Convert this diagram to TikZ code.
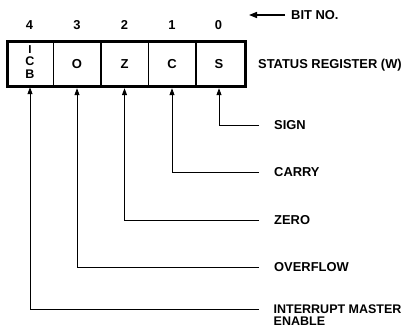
\documentclass[tikz,border=0pt]{standalone}
\usepackage{fontspec}
\setmainfont{Liberation Sans}[BoldFont={Liberation Sans Bold}]
\usetikzlibrary{arrows.meta}
\begin{document}
\begin{tikzpicture}[x=1pt,y=-1pt,
  lbl/.style={font=\bfseries\fontsize{12.9}{12}\selectfont, inner sep=0pt},
  smlbl/.style={font=\bfseries\fontsize{12.5}{12}\selectfont, inner sep=0pt},
  cell/.style={minimum width=46pt, minimum height=48pt, inner sep=0pt, font=\bfseries\fontsize{13}{13}\selectfont},
  arr/.style={line width=0.9pt, -{Triangle[length=7pt,width=5pt]}},
  divider/.style={line width=1.6pt},
  outer/.style={line width=3pt}
]
\useasboundingbox (0,0) rectangle (404,327);
% cells
\node[cell] (s4) at (30,63) {\begin{tabular}{@{}c@{}}\fontsize{11.5}{10}\selectfont I\\[-1pt]\fontsize{12.5}{10.5}\selectfont C\\\fontsize{12.5}{10.5}\selectfont B\end{tabular}};
\node[cell] (s3) at (77,64) {O};
\node[cell] (s2) at (124.5,64) {Z};
\node[cell] (s1) at (172,64) {C};
\node[cell] (s0) at (219,64) {S};
% register outline and dividers
\draw[outer] (7.5,41.5) rectangle (245.5,86.5);
\foreach \xx in {53.5,101,148.5,196}
  \draw[divider] (\xx,41.5) -- (\xx,86.5);
% bit numbers
\node[lbl] (b4) at (29.5,25) {4};
\node[lbl] (b3) at (77,25) {3};
\node[lbl] (b2) at (124.5,25) {2};
\node[lbl] (b1) at (172,25) {1};
\node[lbl] (b0) at (218.5,25) {0};
% bit no.
\node[lbl, anchor=west] (bitno) at (291,15) {BIT NO.};
\coordinate (bstart) at (285,15);
\draw[line width=1.5pt, -{Triangle[length=8pt,width=6pt]}] (bstart) -- (249,15);
% status register
\node[lbl, anchor=west] (sr) at (258,65) {STATUS REGISTER (W)};
% labels
\node[lbl, anchor=west] (sign) at (274,125) {SIGN};
\node[lbl, anchor=west] (carry) at (274,172) {CARRY};
\node[lbl, anchor=west] (zero) at (274,220) {ZERO};
\node[lbl, anchor=west] (ovf) at (274,267) {OVERFLOW};
\node[smlbl, anchor=base west] (ime) at (273.5,313.5) {INTERRUPT MASTER};
\node[smlbl, anchor=base west] (ime2) at (273.5,325.5) {ENABLE};
\coordinate (eS) at (259,125);
\coordinate (eC) at (259,172);
\coordinate (eZ) at (259,220);
\coordinate (eO) at (259,267);
\coordinate (eI) at (259,309);
\draw[arr] (eS) -| (s0.south);
\draw[arr] (eC) -| (s1.south);
\draw[arr] (eZ) -| (s2.south);
\draw[arr] (eO) -| (s3.south);
\draw[arr] (eI) -| (s4.south);
\end{tikzpicture}
\end{document}
